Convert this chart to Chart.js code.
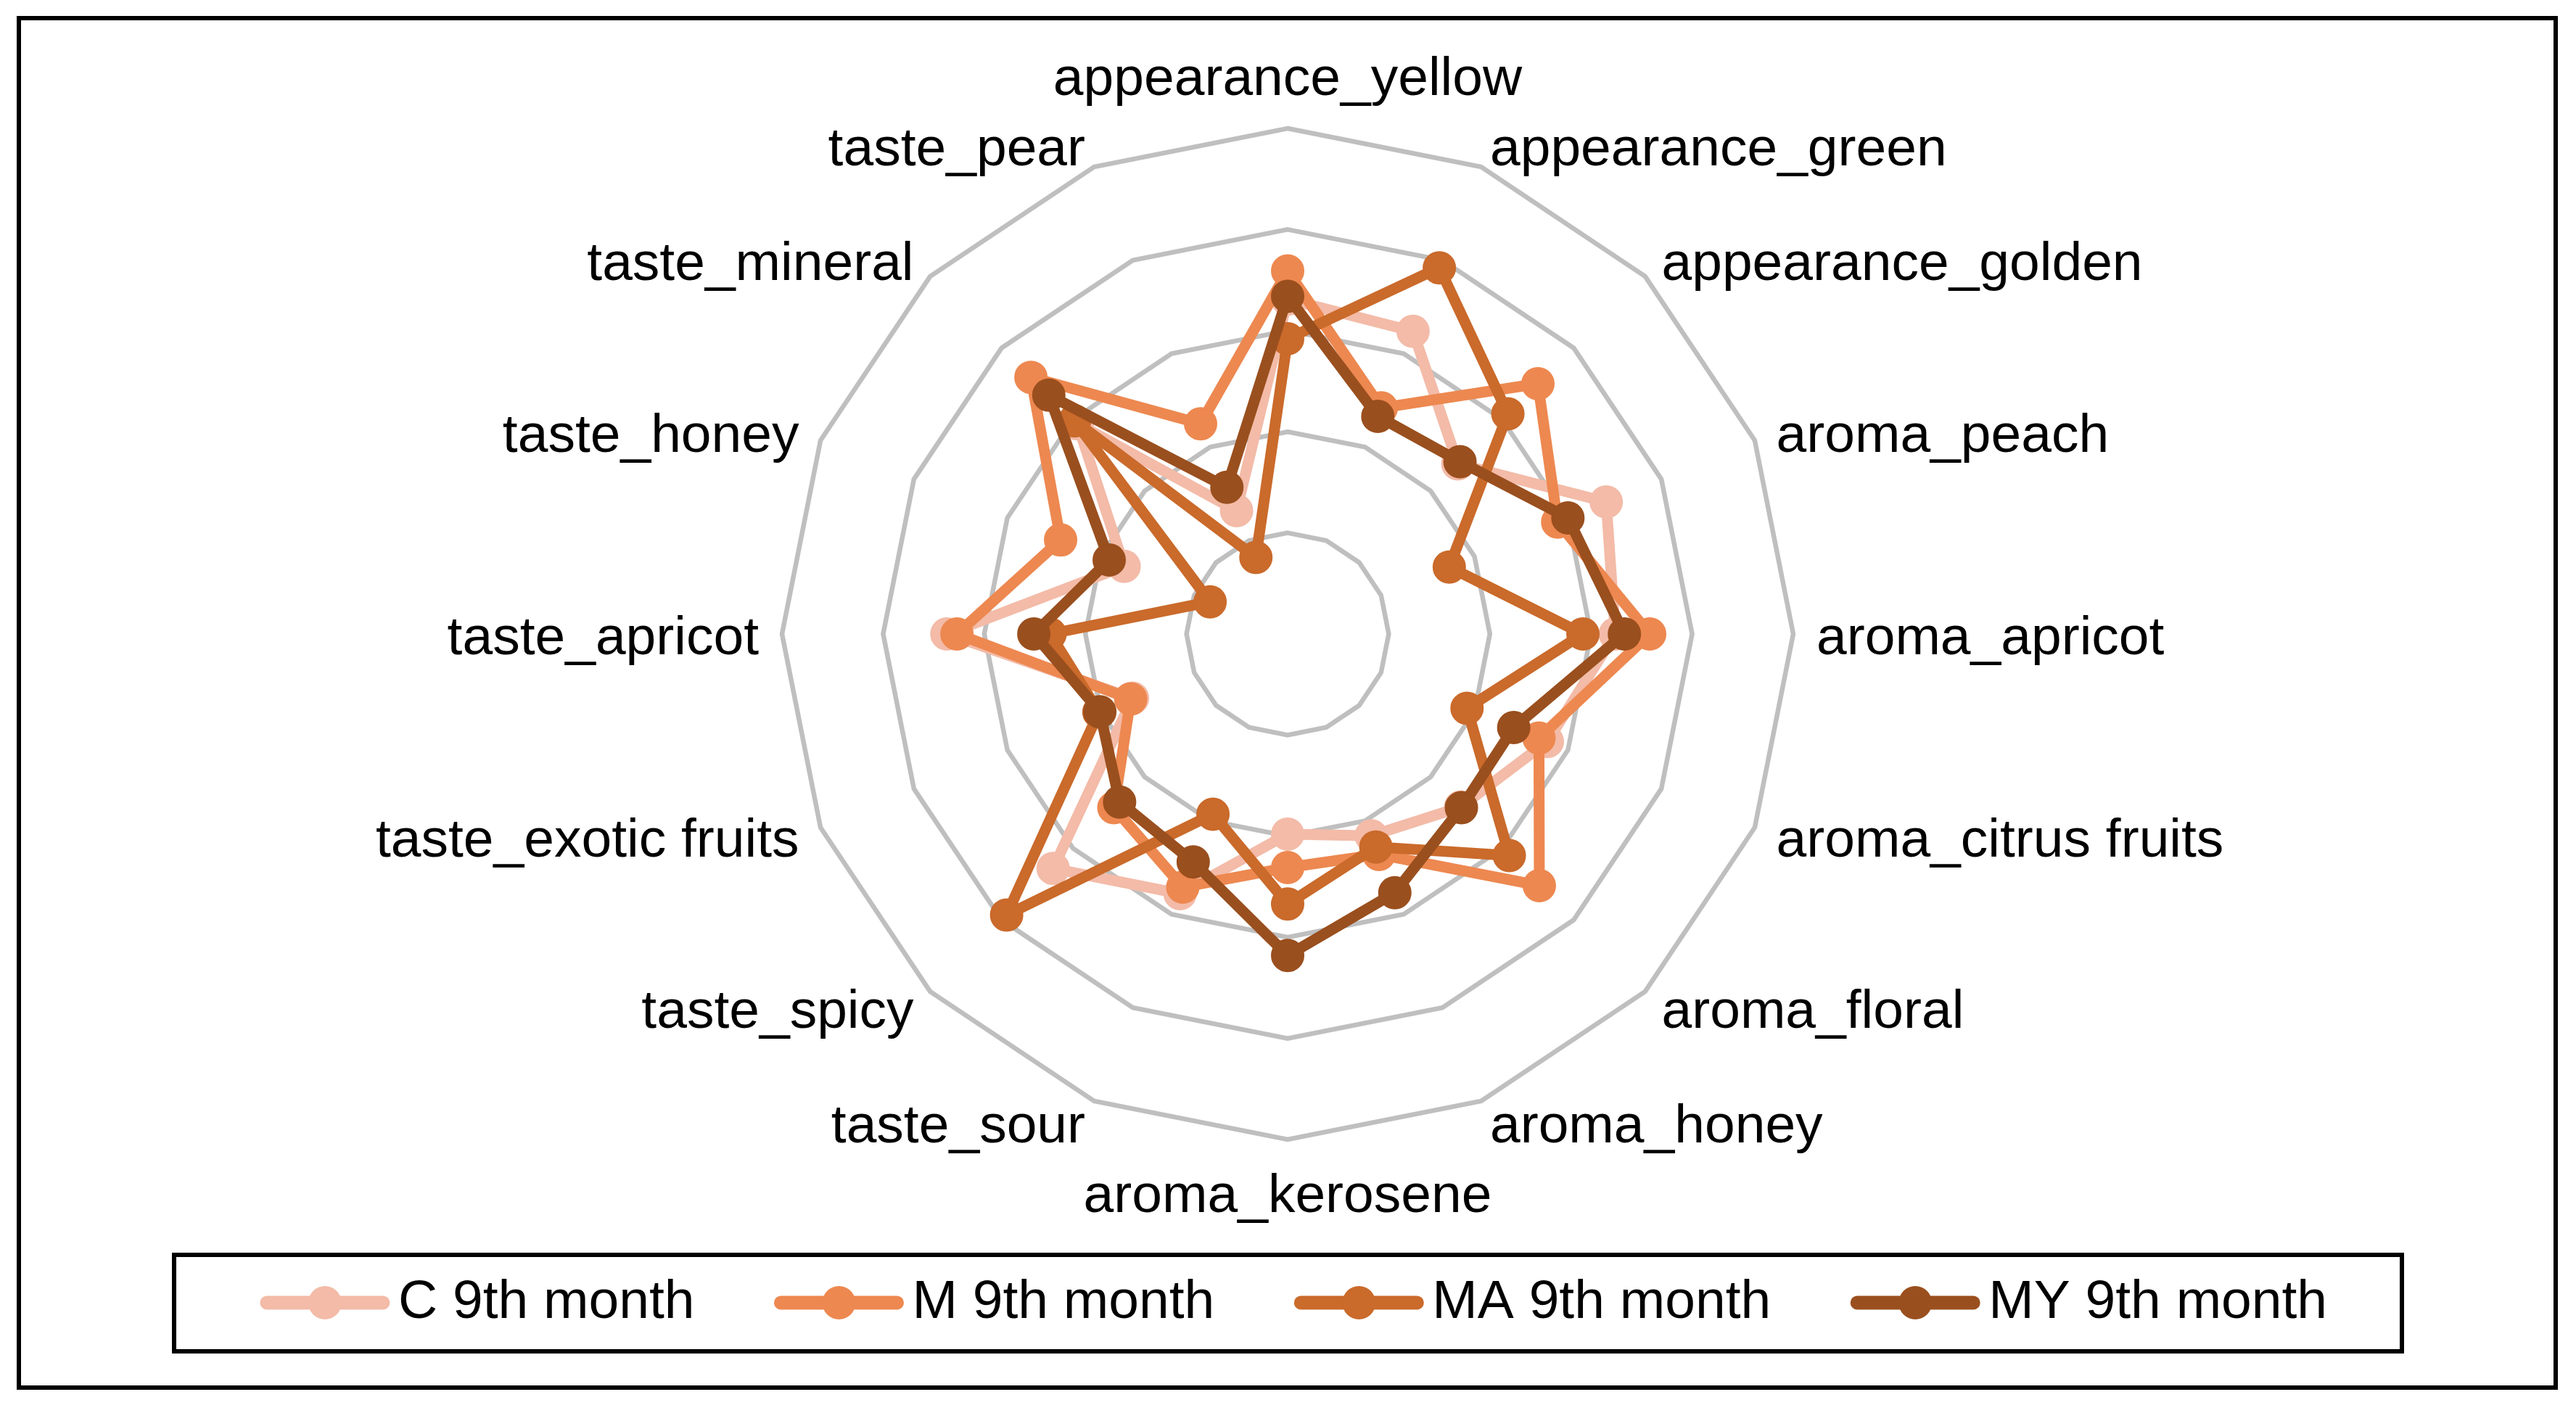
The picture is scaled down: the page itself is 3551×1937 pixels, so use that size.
<!DOCTYPE html>
<html>
<head>
<meta charset="utf-8">
<script src="https://cdn.jsdelivr.net/npm/chart.js@4.4.1/dist/chart.umd.min.js"></script>
<style>
  html, body { margin: 0; padding: 0; background: #fff; }
  canvas { display: block; }
</style>
</head>
<body>
<canvas id="radarChart" width="3551" height="1937"></canvas>
<script>
// sensory attributes, clockwise from the top
var attributes = ["appearance_yellow", "appearance_green", "appearance_golden", "aroma_peach",
  "aroma_apricot", "aroma_citrus fruits", "aroma_floral", "aroma_honey", "aroma_kerosene",
  "taste_sour", "taste_spicy", "taste_exotic fruits", "taste_apricot", "taste_honey",
  "taste_mineral", "taste_pear"];

var c9  = [3.31, 3.24, 2.38, 3.41, 3.24, 2.78, 2.42, 2.16, 1.98, 2.78, 3.28, 1.66, 3.37, 1.75, 2.94, 1.32];
var m9  = [3.59, 2.42, 3.50, 2.89, 3.58, 2.69, 3.52, 2.36, 2.31, 2.71, 2.43, 1.68, 3.27, 2.43, 3.59, 2.25];
var ma9 = [2.92, 3.92, 3.08, 1.73, 2.92, 1.92, 3.10, 2.28, 2.67, 1.93, 3.93, 2.02, 2.35, 0.83, 2.98, 0.82];
var my9 = [3.34, 2.33, 2.41, 3.00, 3.33, 2.42, 2.43, 2.77, 3.18, 2.44, 2.35, 2.01, 2.51, 1.91, 3.34, 1.57];

var seriesNames = ["C 9th month", "M 9th month", "MA 9th month", "MY 9th month"];
var seriesColors = ["#F3BBA8", "#ED8850", "#CA6A2B", "#9A4F1E"];
var seriesValues = [c9, m9, ma9, my9];

var labelFont = '75px "Liberation Sans", Arial, sans-serif';

// axis labels placed Excel-style around the outer ring
var pointLabelPlugin = {
  id: 'pointLabelPlugin',
  afterDraw: function(chart) {
    var scale = chart.scales.r;
    var ctx = chart.ctx;
    ctx.save();
    ctx.font = labelFont;
    ctx.fillStyle = '#000';
    ctx.textBaseline = 'middle';
    for (var i = 0; i < attributes.length; i++) {
      var p = scale.getPointPosition(i, scale.drawingArea + 32);
      var ang = scale.getIndexAngle(i);
      var s = Math.sin(ang), c = Math.cos(ang);
      if (Math.abs(s) < 0.01) {
        ctx.textAlign = 'center';
        ctx.fillText(attributes[i], p.x, c > 0 ? p.y - 35 : p.y + 47);
      } else {
        ctx.textAlign = s > 0 ? 'left' : 'right';
        ctx.fillText(attributes[i], p.x, p.y + 7);
      }
    }
    ctx.restore();
  }
};

// outer frame + boxed legend at the bottom
var boxLegendPlugin = {
  id: 'boxLegend',
  afterDraw: function(chart) {
    var ctx = chart.ctx;
    var ds = chart.data.datasets;
    ctx.save();
    ctx.strokeStyle = '#000';
    ctx.lineWidth = 6;
    ctx.strokeRect(26, 25, 3497, 1888);
    ctx.strokeRect(240, 1730, 3071, 133);

    ctx.font = labelFont;
    var lineLen = 178, gapText = 12, gapItem = 110;
    var widths = [];
    var total = 0;
    for (var i = 0; i < ds.length; i++) {
      widths[i] = ctx.measureText(ds[i].label).width;
      total += lineLen + gapText + widths[i];
    }
    total += gapItem * (ds.length - 1);
    var x = 240 + (3071 - total) / 2 + 8;
    var y = 1796;
    for (var i = 0; i < ds.length; i++) {
      ctx.strokeStyle = ds[i].borderColor;
      ctx.lineWidth = 19;
      ctx.lineCap = 'round';
      ctx.beginPath();
      ctx.moveTo(x + 9, y);
      ctx.lineTo(x + lineLen - 9, y);
      ctx.stroke();
      ctx.fillStyle = ds[i].borderColor;
      ctx.beginPath();
      ctx.arc(x + lineLen / 2, y, 23, 0, Math.PI * 2);
      ctx.fill();
      ctx.fillStyle = '#000';
      ctx.textAlign = 'left';
      ctx.textBaseline = 'middle';
      ctx.fillText(ds[i].label, x + lineLen + gapText, y);
      x += lineLen + gapText + widths[i] + gapItem;
    }
    ctx.restore();
  }
};

var datasets = [];
for (var k = 0; k < seriesNames.length; k++) {
  datasets.push({
    label: seriesNames[k],
    data: seriesValues[k],
    borderColor: seriesColors[k],
    backgroundColor: seriesColors[k],
    pointBackgroundColor: seriesColors[k],
    pointBorderColor: seriesColors[k],
    fill: false,
    order: seriesNames.length - k
  });
}

var ctxR = document.getElementById("radarChart").getContext('2d');
var radarChart = new Chart(ctxR, {
  type: 'radar',
  data: {
    labels: attributes,
    datasets: datasets
  },
  options: {
    responsive: false,
    animation: false,
    devicePixelRatio: 1,
    layout: { padding: { top: 177, bottom: 366, left: 0, right: 0 } },
    plugins: {
      legend: { display: false },
      tooltip: { enabled: false }
    },
    elements: {
      line: { borderWidth: 15, tension: 0, borderJoinStyle: 'round', borderCapStyle: 'round' },
      point: { radius: 22, borderWidth: 2, hoverRadius: 22 }
    },
    scales: {
      r: {
        min: 0,
        max: 5,
        ticks: { display: false, stepSize: 1 },
        grid: { color: '#BFBFBF', lineWidth: 6.5 },
        angleLines: { display: false },
        pointLabels: { display: false }
      }
    }
  },
  plugins: [pointLabelPlugin, boxLegendPlugin]
});
</script>
</body>
</html>
